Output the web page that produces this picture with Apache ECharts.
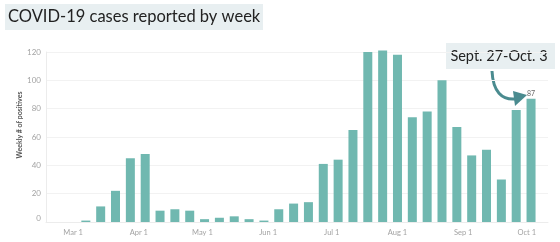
<!DOCTYPE html>
<html>
<head>
<meta charset="utf-8">
<script src="https://cdn.jsdelivr.net/npm/echarts@6/dist/echarts.min.js"></script>
<style>
  html, body { margin: 0; padding: 0; background: #fff; }
  #chart { width: 560px; height: 242px; }
</style>
</head>
<body>
<div id="chart"></div>
<script>
// Week-ending dates (weeks run Sunday–Saturday; last week is Sept. 27–Oct. 3)
const weekEnding = [
  '2020-03-07','2020-03-14','2020-03-21','2020-03-28','2020-04-04','2020-04-11',
  '2020-04-18','2020-04-25','2020-05-02','2020-05-09','2020-05-16','2020-05-23',
  '2020-05-30','2020-06-06','2020-06-13','2020-06-20','2020-06-27','2020-07-04',
  '2020-07-11','2020-07-18','2020-07-25','2020-08-01','2020-08-08','2020-08-15',
  '2020-08-22','2020-08-29','2020-09-05','2020-09-12','2020-09-19','2020-09-26',
  '2020-10-03'
];
const weeklyPositives = [
  1, 11, 22, 45, 48, 8,
  9, 8, 2, 3, 4, 2,
  1, 9, 13, 14, 41, 44,
  65, 120, 121, 118, 74, 78,
  100, 67, 47, 51, 30, 79,
  87
];
const yTicks = [0, 20, 40, 60, 80, 100, 120];
const monthNames = ['Jan','Feb','Mar','Apr','May','Jun','Jul','Aug','Sep','Oct','Nov','Dec'];
const titleText = 'COVID-19 cases reported by week';
const yAxisTitle = 'Weekly # of positives';
const calloutText = 'Sept. 27-Oct. 3';

const chart = echarts.init(document.getElementById('chart'), null, { renderer: 'canvas' });
const lastIdx = weeklyPositives.length - 1;

chart.setOption({
  animation: false,
  grid: { left: 46, right: 12, top: 52, bottom: 20, containLabel: false },
  xAxis: {
    type: 'time',
    min: new Date(2020, 1, 19, 8).getTime(),
    max: new Date(2020, 9, 8, 21).getTime(),
    minInterval: 28 * 86400000,
    maxInterval: 31 * 86400000,
    axisLine: { show: true, lineStyle: { color: '#ececec', width: 1 } },
    axisTick: { show: false },
    splitLine: { show: false },
    axisLabel: {
      color: '#a3a3a3',
      fontSize: 7.5,
      fontFamily: 'Lato',
      margin: 7,
      showMinLabel: false,
      showMaxLabel: false,
      hideOverlap: false,
      formatter: function (value) {
        const d = new Date(value);
        if (d.getDate() !== 1 || d.getHours() !== 0) return '';
        return monthNames[d.getMonth()] + ' 1';
      }
    }
  },
  yAxis: {
    type: 'value',
    min: yTicks[0],
    max: yTicks[yTicks.length - 1],
    interval: 20,
    axisLine: { show: true, lineStyle: { color: '#ececec' } },
    axisTick: { show: false },
    splitLine: { show: true, lineStyle: { color: '#f2f2f2', width: 1 } },
    axisLabel: {
      color: '#a3a3a3',
      fontSize: 8,
      fontFamily: 'Lato',
      margin: 5,
      verticalAlignMinLabel: 'bottom'
    }
  },
  series: [{
    type: 'bar',
    clip: false,
    barWidth: 9,
    itemStyle: { color: '#70b8b0' },
    data: weekEnding.map((d, i) => {
      const item = { value: [d, weeklyPositives[i]] };
      if (i === lastIdx) {
        item.label = {
          show: true, position: 'top', distance: 2,
          color: '#666', fontSize: 7, fontFamily: 'Lato',
          formatter: String(weeklyPositives[i])
        };
      }
      return item;
    })
  }],
  graphic: [
    {
      type: 'rect', left: 5, top: 4,
      shape: { width: 258, height: 26 },
      style: { fill: '#e8eff1' }
    },
    {
      type: 'text', x: 8, y: 17,
      style: {
        text: titleText, fill: '#222', fontSize: 16.5, fontFamily: 'Lato',
        textVerticalAlign: 'middle', textAlign: 'left'
      }
    },
    {
      type: 'text', x: 20, y: 125, rotation: Math.PI / 2,
      style: {
        text: yAxisTitle, fill: '#555', fontSize: 7, fontWeight: 'bold', fontFamily: 'Lato',
        textAlign: 'center', textVerticalAlign: 'middle'
      }
    },
    {
      type: 'rect', left: 446, top: 43,
      shape: { width: 109, height: 26 },
      style: { fill: '#e8eff1' }
    },
    {
      type: 'text', x: 499, y: 56,
      style: {
        text: calloutText, fill: '#222', fontSize: 14.5, fontFamily: 'Lato',
        textAlign: 'center', textVerticalAlign: 'middle'
      }
    },
    {
      type: 'bezierCurve',
      shape: { x1: 492, y1: 71, cpx1: 493, cpy1: 92, cpx2: 502, cpy2: 100, x2: 515, y2: 99 },
      style: { stroke: '#4a8b8f', lineWidth: 3, fill: null }
    },
    {
      type: 'polygon',
      shape: { points: [[527, 95], [513, 91], [515, 106]] },
      style: { fill: '#4a8b8f' }
    }
  ]
});
</script>
</body>
</html>
